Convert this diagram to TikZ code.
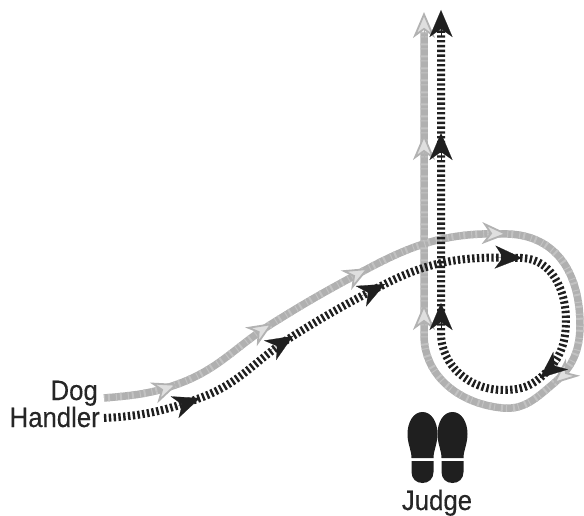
\documentclass[tikz,border=0pt]{standalone}
\usepackage{fontspec}
\setmainfont[FakeStretch=0.92, FakeBold=0.3]{Liberation Sans}
\usetikzlibrary{arrows.meta}
\tikzset{
  label/.style={inner sep=0pt, font=\fontsize{28}{28}\selectfont, text=black!85},
  grayline/.style={draw=gray!62, line width=7.5pt, postaction={draw=gray!48, line width=7.5pt, dash pattern=on 1pt off 3pt on 2pt off 6pt}},
  grayhead/.style={draw=gray!60, line width=0.2pt, -{Stealth[length=26pt, width=22pt, inset=8pt, fill=gray!25, line width=1.8pt]}},
  darkline/.style={draw=black!88, line width=8pt, dash pattern=on 2.4pt off 2.4pt},
  darkhead/.style={draw=black!88, line width=0.2pt, -{Stealth[length=27pt, width=23pt, inset=8pt]}},
  sole/.style={fill=black!88, draw=none},
  sole shape/.pic={
    \fill[sole] (0,0) .. controls (9,0) and (15,10) .. (15,22) .. controls (15,32) and (11,38) .. (11,46) -- (-11,46) .. controls (-11,38) and (-15,32) .. (-15,22) .. controls (-15,10) and (-9,0) .. (0,0) -- cycle;
    \fill[sole] (-11,49) -- (11,49) -- (11,60) .. controls (11,67) and (6,71) .. (0,71) .. controls (-6,71) and (-11,67) .. (-11,60) -- cycle;
  },
}
\begin{document}
\begin{tikzpicture}[x=1pt, y=-1pt]
  \useasboundingbox (0,0) rectangle (584,516);

  % ---- Labels ----
  \node (dog) [label, anchor=base east] at (98,400) {Dog};
  \node (handler) [label, anchor=base east] at (100,427) {Handler};
  \node (judge) [label, anchor=base] at (437,510) {Judge};

  % ---- Grey route ----
  \coordinate (g0) at (104,398);
  \coordinate (g1) at (178,384);
  \coordinate (g2) at (273,323);
  \coordinate (g3) at (369,268);
  \coordinate (g4) at (508,234);
  \coordinate (g5) at (580,325);
  \coordinate (g6) at (553,384);
  \coordinate (g7) at (503,408);
  \coordinate (g8) at (424,335);
  \coordinate (g9) at (424,304);
  \coordinate (g10) at (424,134);
  \coordinate (g11) at (424,12);
  \coordinate (g12) at (424,32);

  \draw [grayline] (g0) to[out=5, in=200] (g1) to[out=20, in=212] (g2) to[out=32, in=208] (g3)
    to[out=28, in=178] (g4) to[out=-2, in=90, looseness=1.1] (g5) to[out=-90, in=40] (g6)
    to[out=-140, in=-5] (g7) to[out=175, in=-90] (g8) -- (g12);
  \foreach \tip/\ang in {g1/20, g2/32, g3/28, g4/-2, g6/220, g9/90, g10/90, g11/90}
    \draw [grayhead] ([shift={(\ang+180:26pt)}]\tip) -- (\tip);

  % ---- Dark route ----
  \coordinate (b0) at (104,418);
  \coordinate (b1) at (200,398);
  \coordinate (b2) at (293,336);
  \coordinate (b3) at (385,284);
  \coordinate (b4) at (522,258);
  \coordinate (b5) at (566,320);
  \coordinate (b6) at (540,378);
  \coordinate (b7) at (503,390);
  \coordinate (b8) at (441,333);
  \coordinate (b9) at (441,303);
  \coordinate (b10) at (441,133);
  \coordinate (b11) at (441,10);
  \coordinate (b12) at (441,30);

  \draw [darkline] (b0) to[out=3, in=200] (b1) to[out=20, in=212] (b2) to[out=32, in=207] (b3)
    to[out=27, in=178] (b4) to[out=-2, in=90] (b5) to[out=-90, in=40] (b6)
    to[out=-140, in=0] (b7) to[out=180, in=-90] (b8) -- (b12);
  \foreach \tip/\ang in {b1/20, b2/32, b3/27, b4/-2, b6/220, b9/90, b10/90, b11/90}
    \draw [darkhead] ([shift={(\ang+180:27pt)}]\tip) -- (\tip);

  % ---- Footprints ----
  \pic at (422.5,412) {sole shape};
  \pic at (452.5,412) {sole shape};
\end{tikzpicture}
\end{document}
